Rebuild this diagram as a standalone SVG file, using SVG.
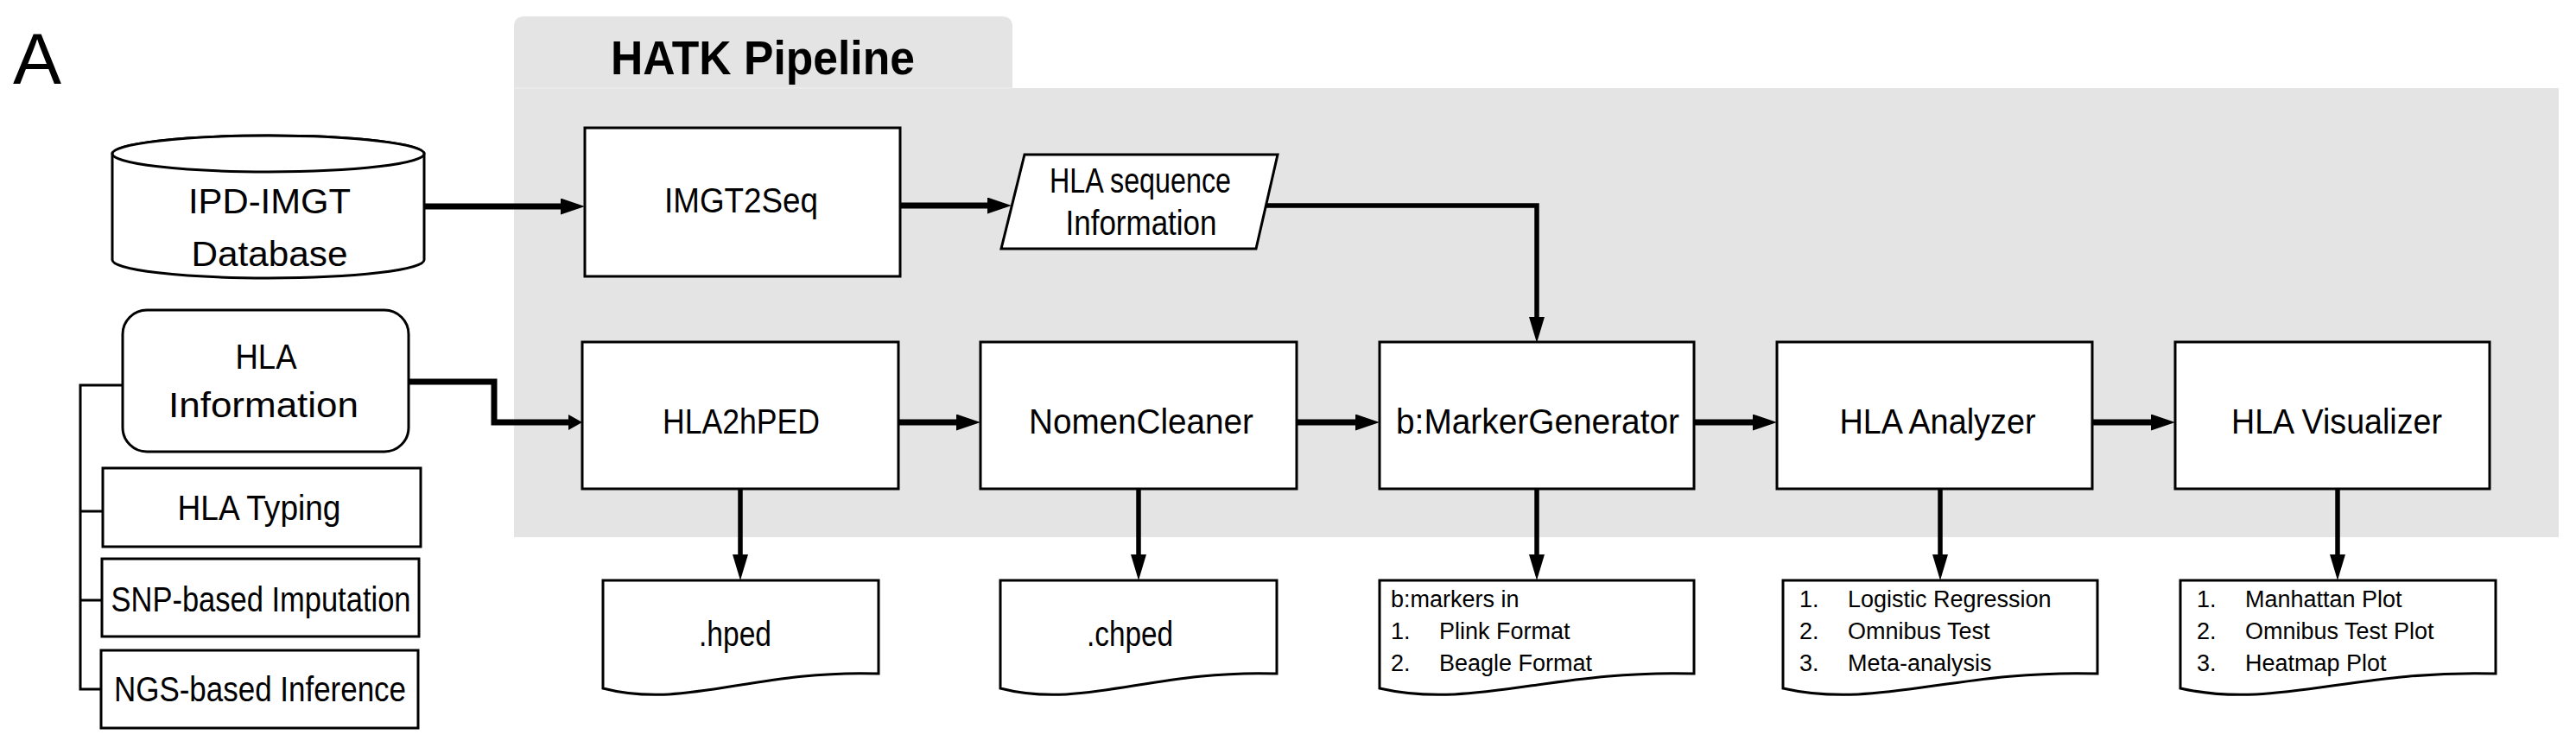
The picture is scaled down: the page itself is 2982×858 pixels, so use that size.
<svg xmlns="http://www.w3.org/2000/svg" width="2982" height="858" viewBox="0 0 2982 858">
<style>
text{font-family:"Liberation Sans",Arial,sans-serif;fill:#000}
.box{fill:#fff;stroke:#000;stroke-width:3}
.lbl{font-size:40px;text-anchor:middle}
.lst{font-size:27px}
.con{fill:none;stroke:#000;stroke-width:7}
.dn{fill:none;stroke:#000;stroke-width:5.5}
.thin{fill:none;stroke:#000;stroke-width:3}
</style>
<defs>
<marker id="ah" markerUnits="userSpaceOnUse" markerWidth="28" markerHeight="19" refX="0" refY="9.5" orient="auto"><path d="M0,0 L28,9.5 L0,19 z" fill="#000"/></marker>
<marker id="ahs" markerUnits="userSpaceOnUse" markerWidth="16" markerHeight="18" refX="0" refY="9" orient="auto"><path d="M0,0 L16,9 L0,18 z" fill="#000"/></marker>
<marker id="ahd" markerUnits="userSpaceOnUse" markerWidth="30" markerHeight="18" refX="0" refY="9" orient="auto"><path d="M0,0 L30,9 L0,18 z" fill="#000"/></marker>
</defs>
<rect width="2982" height="858" fill="#fff"/>
<text x="15" y="97" font-size="84">A</text>
<g id="pipeline">
<path d="M595,102 V31 Q595,19 607,19 H1160 Q1172,19 1172,31 V102 Z" fill="#e4e4e4"/>
<rect x="595" y="102" width="2367" height="520" fill="#e4e4e4"/>
<line x1="595" y1="102" x2="1172" y2="102" stroke="#ececec" stroke-width="1.5"/>
<text x="707" y="86" font-size="56" font-weight="bold" textLength="352" lengthAdjust="spacingAndGlyphs">HATK Pipeline</text>
</g>
<g id="connectors">
<path class="con" d="M491,239 H649" marker-end="url(#ah)"/>
<path class="con" d="M1042,238 H1143" marker-end="url(#ah)"/>
<path class="dn" d="M1466,238 H1779 V367" marker-end="url(#ahd)"/>
<path class="con" d="M473,442 H572 V489 H658" marker-end="url(#ahs)"/>
<path class="con" d="M1040,489 H1107" marker-end="url(#ah)"/>
<path class="con" d="M1501,489 H1569" marker-end="url(#ah)"/>
<path class="con" d="M1961,489 H2029" marker-end="url(#ah)"/>
<path class="con" d="M2422,489 H2490" marker-end="url(#ah)"/>
<path class="dn" d="M857,566 V642" marker-end="url(#ahd)"/>
<path class="dn" d="M1318,566 V642" marker-end="url(#ahd)"/>
<path class="dn" d="M1779,566 V642" marker-end="url(#ahd)"/>
<path class="dn" d="M2246,566 V642" marker-end="url(#ahd)"/>
<path class="dn" d="M2706,566 V642" marker-end="url(#ahd)"/>
<path class="thin" d="M142,446 H93 V798 H117 M93,592 H119 M93,695 H118"/>
</g>
<g id="ipd-imgt">
<path class="box" d="M130,178 V301 A180.5,21 0 0 0 491,301 V178 A180.5,21 0 0 0 130,178 Z"/>
<ellipse class="box" cx="310.5" cy="178" rx="180.5" ry="21"/>
<text class="lbl" x="312" y="247" font-size="46" textLength="188" lengthAdjust="spacingAndGlyphs">IPD-IMGT</text>
<text class="lbl" x="312" y="308" font-size="46" textLength="181" lengthAdjust="spacingAndGlyphs">Database</text>
</g>
<g id="hla-info">
<rect class="box" x="142" y="359" width="331" height="164" rx="28"/>
<text class="lbl" x="308" y="427" font-size="42" textLength="71" lengthAdjust="spacingAndGlyphs">HLA</text>
<text class="lbl" x="305" y="483" font-size="42" textLength="220" lengthAdjust="spacingAndGlyphs">Information</text>
</g>
<g id="hla-typing">
<rect class="box" x="119" y="542" width="368" height="91"/>
<text class="lbl" x="300" y="602" font-size="35" textLength="189" lengthAdjust="spacingAndGlyphs">HLA Typing</text>
</g>
<g id="snp-imputation">
<rect class="box" x="118" y="647" width="367" height="90"/>
<text class="lbl" x="302" y="708" font-size="35" textLength="347" lengthAdjust="spacingAndGlyphs">SNP-based Imputation</text>
</g>
<g id="ngs-inference">
<rect class="box" x="117" y="753" width="367" height="90"/>
<text class="lbl" x="301" y="812" font-size="35" textLength="338" lengthAdjust="spacingAndGlyphs">NGS-based Inference</text>
</g>
<g id="imgt2seq">
<rect class="box" x="677" y="148" width="365" height="172"/>
<text class="lbl" x="858" y="246" textLength="178" lengthAdjust="spacingAndGlyphs">IMGT2Seq</text>
</g>
<g id="hla-seq-info">
<path class="box" d="M1186,179 H1479 L1454,288 H1159 Z"/>
<text class="lbl" x="1320" y="223" font-size="33" textLength="210" lengthAdjust="spacingAndGlyphs">HLA sequence</text>
<text class="lbl" x="1321" y="272" font-size="33" textLength="175" lengthAdjust="spacingAndGlyphs">Information</text>
</g>
<g id="hla2hped">
<rect class="box" x="674" y="396" width="366" height="170"/>
<text class="lbl" x="858" y="502" textLength="182" lengthAdjust="spacingAndGlyphs">HLA2hPED</text>
</g>
<g id="nomencleaner">
<rect class="box" x="1135" y="396" width="366" height="170"/>
<text class="lbl" x="1321" y="502" textLength="260" lengthAdjust="spacingAndGlyphs">NomenCleaner</text>
</g>
<g id="markergenerator">
<rect class="box" x="1597" y="396" width="364" height="170"/>
<text class="lbl" x="1780" y="502" textLength="328" lengthAdjust="spacingAndGlyphs">b:MarkerGenerator</text>
</g>
<g id="hla-analyzer">
<rect class="box" x="2057" y="396" width="365" height="170"/>
<text class="lbl" x="2243" y="502" textLength="227" lengthAdjust="spacingAndGlyphs">HLA Analyzer</text>
</g>
<g id="hla-visualizer">
<rect class="box" x="2518" y="396" width="364" height="170"/>
<text class="lbl" x="2705" y="502" textLength="244" lengthAdjust="spacingAndGlyphs">HLA Visualizer</text>
</g>
<g id="hped-doc">
<path class="box" d="M698,672 H1017 V780 C873,775 794,822 698,797 Z"/>
<text class="lbl" x="851" y="748" font-size="36" textLength="84" lengthAdjust="spacingAndGlyphs">.hped</text>
</g>
<g id="chped-doc">
<path class="box" d="M1158,672 H1478 V780 C1334,775 1254,822 1158,797 Z"/>
<text class="lbl" x="1308" y="748" font-size="36" textLength="100" lengthAdjust="spacingAndGlyphs">.chped</text>
</g>
<g id="markers-doc">
<path class="box" d="M1597,672 H1961 V780 C1797,775 1706,822 1597,797 Z"/>
<text class="lst" x="1610" y="703">b:markers in</text>
<text class="lst" x="1610" y="740">1.</text><text class="lst" x="1666" y="740">Plink Format</text>
<text class="lst" x="1610" y="777">2.</text><text class="lst" x="1666" y="777">Beagle Format</text>
</g>
<g id="analyzer-doc">
<path class="box" d="M2064,672 H2428 V780 C2264,775 2173,822 2064,797 Z"/>
<text class="lst" x="2083" y="703">1.</text><text class="lst" x="2139" y="703">Logistic Regression</text>
<text class="lst" x="2083" y="740">2.</text><text class="lst" x="2139" y="740">Omnibus Test</text>
<text class="lst" x="2083" y="777">3.</text><text class="lst" x="2139" y="777">Meta-analysis</text>
</g>
<g id="visualizer-doc">
<path class="box" d="M2524,672 H2889 V780 C2725,775 2634,822 2524,797 Z"/>
<text class="lst" x="2543" y="703">1.</text><text class="lst" x="2599" y="703">Manhattan Plot</text>
<text class="lst" x="2543" y="740">2.</text><text class="lst" x="2599" y="740">Omnibus Test Plot</text>
<text class="lst" x="2543" y="777">3.</text><text class="lst" x="2599" y="777">Heatmap Plot</text>
</g>
</svg>
